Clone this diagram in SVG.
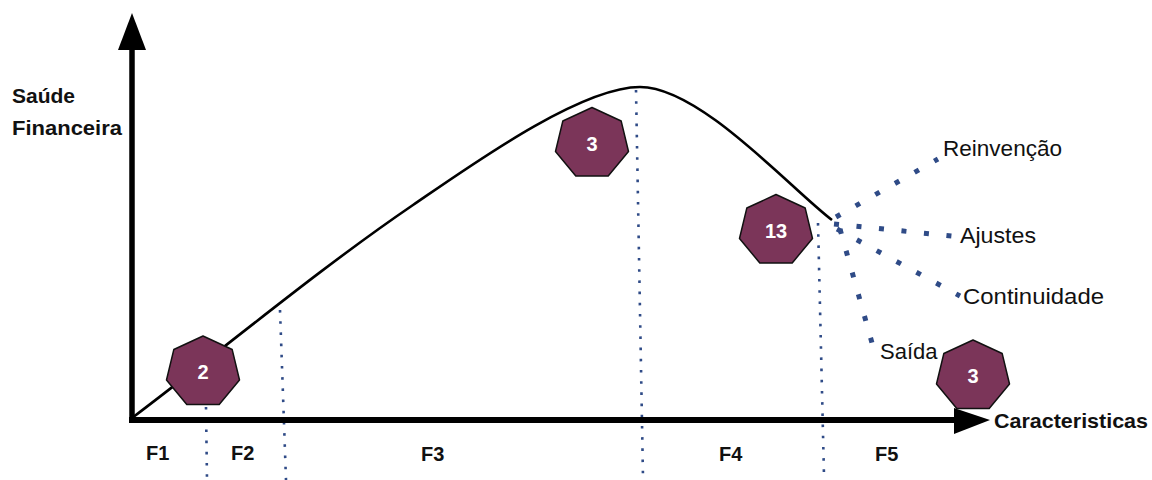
<svg xmlns="http://www.w3.org/2000/svg" xmlns:xlink="http://www.w3.org/1999/xlink" width="1152" height="480" viewBox="0 0 1152 480">
  <style>
    .lbl { font-family: "Liberation Sans", Arial, sans-serif; fill: #111; }
    .b { font-weight: bold; }
    .num { font-family: "Liberation Sans", Arial, sans-serif; font-weight: bold; font-size: 20px; fill: #ffffff; text-anchor: middle; }
    .hept { fill: #7B3559; stroke: #111; stroke-width: 1.5; stroke-linejoin: round; }
    .vdot { stroke: #2F4B87; stroke-width: 2.6; stroke-dasharray: 2.6 8.6; fill: none; }
    .fan { stroke: #2F4B87; stroke-width: 5; stroke-dasharray: 5 17.6; fill: none; }
  </style>
  <defs>
    <polygon id="hept" class="hept" points="0,-36 29.2,-22.45 36.5,8.01 16.2,32.44 -16.2,32.44 -36.5,8.01 -29.2,-22.45"/>
  </defs>
  <rect width="1152" height="480" fill="#ffffff"/>

  <g id="connectors">
    <!-- vertical phase separators -->
    <line class="vdot" x1="206" y1="407" x2="207" y2="480"/>
    <line class="vdot" x1="280" y1="310" x2="286" y2="480"/>
    <line class="vdot" x1="636" y1="90" x2="643" y2="478"/>
    <line class="vdot" x1="818" y1="223" x2="824" y2="476"/>
    <!-- curve -->
    <path d="M132,418 C226,347 319,269 413,205 C470,166 580,87 640,87 C700,87 790,188 832,220" fill="none" stroke="#000" stroke-width="2.6"/>
    <!-- fan of options -->
    <line class="fan" x1="836" y1="217" x2="938" y2="159"/>
    <line class="fan" x1="834" y1="224" x2="952" y2="236"/>
    <line class="fan" x1="837" y1="229" x2="960" y2="296"/>
    <line class="fan" x1="840" y1="229" x2="874" y2="350"/>
    <!-- axes -->
    <line x1="132" y1="45" x2="132" y2="423" stroke="#000" stroke-width="5.5"/>
    <polygon points="118,50 132,13 146,50" fill="#000"/>
    <line x1="129" y1="420" x2="958" y2="420" stroke="#000" stroke-width="6"/>
    <polygon points="954,408 990,420 954,434" fill="#000"/>
  </g>

  <g id="node-2">
    <use xlink:href="#hept" x="203" y="372"/>
    <text class="num" x="203" y="379">2</text>
  </g>
  <g id="node-3a">
    <use xlink:href="#hept" x="592" y="143.5"/>
    <text class="num" x="592" y="150.5">3</text>
  </g>
  <g id="node-13">
    <use xlink:href="#hept" x="776" y="230.5"/>
    <text class="num" x="776" y="237.5">13</text>
  </g>
  <g id="node-3b">
    <use xlink:href="#hept" x="973" y="376"/>
    <text class="num" x="973" y="383">3</text>
  </g>

  <g id="labels">
    <text class="lbl b" x="12" y="103" font-size="21">Saúde</text>
    <text class="lbl b" x="12" y="135" font-size="21" textLength="110" lengthAdjust="spacingAndGlyphs">Financeira</text>
    <text class="lbl b" x="994" y="428" font-size="21" textLength="154" lengthAdjust="spacingAndGlyphs">Caracteristicas</text>
    <text class="lbl b" x="146" y="460" font-size="20">F1</text>
    <text class="lbl b" x="231" y="460" font-size="20">F2</text>
    <text class="lbl b" x="421" y="461" font-size="20">F3</text>
    <text class="lbl b" x="719" y="461" font-size="20">F4</text>
    <text class="lbl b" x="875" y="461" font-size="20">F5</text>
    <text class="lbl" x="943" y="156" font-size="22" textLength="119" lengthAdjust="spacingAndGlyphs">Reinvenção</text>
    <text class="lbl" x="960" y="243" font-size="22" textLength="76" lengthAdjust="spacingAndGlyphs">Ajustes</text>
    <text class="lbl" x="963" y="304" font-size="22" textLength="141" lengthAdjust="spacingAndGlyphs">Continuidade</text>
    <text class="lbl" x="880" y="359" font-size="22">Saída</text>
  </g>
</svg>
